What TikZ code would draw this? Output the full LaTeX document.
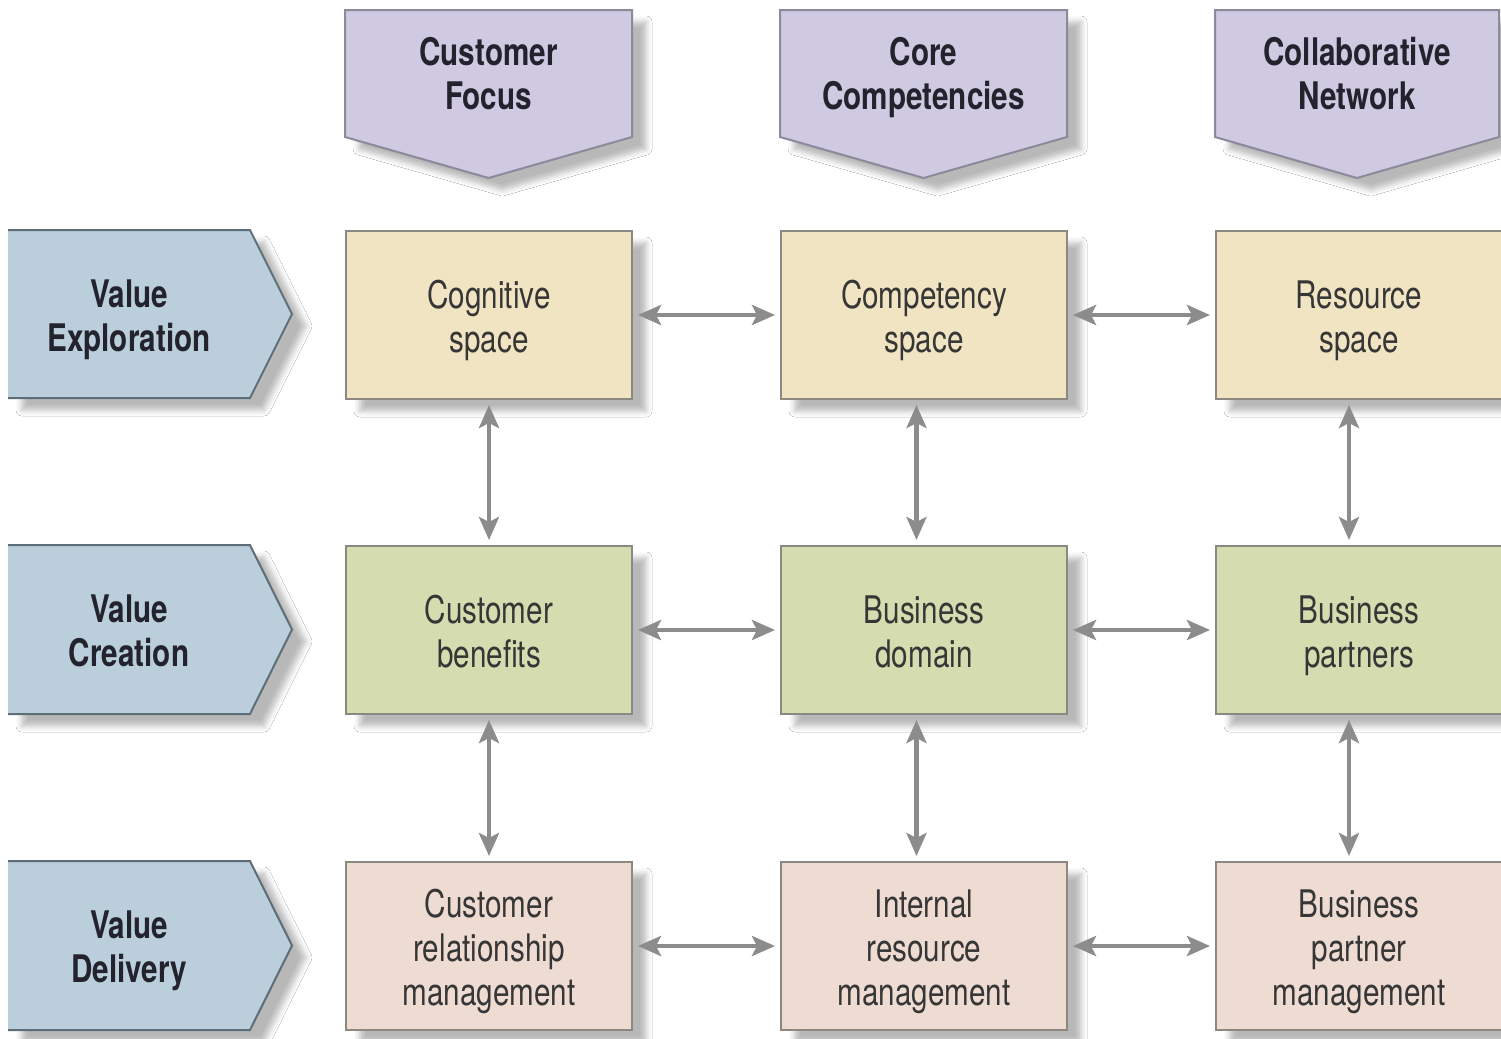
\documentclass[tikz,border=0pt]{standalone}
\usepackage{fontspec}
\setmainfont{TeX Gyre Heros}[FakeStretch=0.78]
\usetikzlibrary{arrows.meta,shadows.blur}

\definecolor{hdrfill}{HTML}{CFC9E2}
\definecolor{hdredge}{HTML}{8C8A9A}
\definecolor{stagefill}{HTML}{BACEDB}
\definecolor{stageedge}{HTML}{5E6E78}
\definecolor{explfill}{HTML}{F1E4C3}
\definecolor{creafill}{HTML}{D4DCB0}
\definecolor{delfill}{HTML}{EEDBD2}
\definecolor{boxedge}{HTML}{8A8880}
\definecolor{linkgray}{HTML}{8C8C8C}
\definecolor{boldtext}{HTML}{23232E}
\definecolor{plaintext}{HTML}{363636}

% centred lines of text with a fixed row height, so every label sits
% at the same place in its box whatever its letters
\newcommand\lines[1]{\begin{tabular}{@{}c@{}}\rule{0pt}{22pt}#1\end{tabular}}

\begin{document}
\begin{tikzpicture}[x=0.5pt,y=-0.5pt,
  softshadow/.style={blur shadow={shadow xshift=7pt, shadow yshift=-6pt,
      shadow blur radius=3pt, shadow opacity=28}},
  cell/.style={draw=boxedge, line width=1pt, minimum width=143pt,
      minimum height=84pt, inner sep=0pt, anchor=north west,
      font=\fontsize{19}{22}\selectfont, text=plaintext, softshadow},
  heading/.style={font=\bfseries\fontsize{19}{22}\selectfont,
      text=boldtext, inner sep=0pt},
  header/.style={fill=hdrfill, draw=hdredge, line width=1pt, softshadow},
  stage/.style={fill=stagefill, softshadow},
  stageline/.style={draw=stageedge, line width=1pt},
  link/.style={{Stealth[length=11.5pt,width=10pt,inset=2.5pt]}-{Stealth[length=11.5pt,width=10pt,inset=2.5pt]},
      draw=linkgray, line width=2.2pt, shorten <=2.5pt, shorten >=2.5pt}]
\useasboundingbox[fill=white] (0,0) rectangle (1501,1039);

% column headers (down-pointing pentagons)
\path[header] (345,10) -- (632,10) -- (632,137) -- (488.5,178) -- (345,137) -- cycle;
\path[header] (780,10) -- (1067,10) -- (1067,137) -- (923.5,178) -- (780,137) -- cycle;
\path[header] (1215,10) -- (1499,10) -- (1499,137) -- (1357,178) -- (1215,137) -- cycle;
\node[heading] (h1) at (488.5,72) {\lines{Customer\\Focus}};
\node[heading] (h2) at (923.5,72) {\lines{Core\\Competencies}};
\node[heading] (h3) at (1357,72) {\lines{Collaborative\\Network}};

% row labels (right-pointing arrows, open at the left margin)
\foreach \top/\mid/\bot in {230/314/398, 545/629.5/714, 861/945.5/1030}{
  \path[stage] (8,\top) -- (250,\top) -- (292,\mid) -- (250,\bot) -- (8,\bot) -- cycle;
  \draw[stageline] (8,\top) -- (250,\top) -- (292,\mid) -- (250,\bot) -- (8,\bot);
}
\node[heading] (r1) at (129,314) {\lines{Value\\Exploration}};
\node[heading] (r2) at (129,629.5) {\lines{Value\\Creation}};
\node[heading] (r3) at (129,945.5) {\lines{Value\\Delivery}};

% value exploration row
\node[cell, fill=explfill] (b11) at (345,230) {\lines{Cognitive\\space}};
\node[cell, fill=explfill] (b12) at (780,230) {\lines{Competency\\space}};
\node[cell, fill=explfill] (b13) at (1215,230) {\lines{Resource\\space}};
% value creation row
\node[cell, fill=creafill] (b21) at (345,545) {\lines{Customer\\benefits}};
\node[cell, fill=creafill] (b22) at (780,545) {\lines{Business\\domain}};
\node[cell, fill=creafill] (b23) at (1215,545) {\lines{Business\\partners}};
% value delivery row
\node[cell, fill=delfill] (b31) at (345,861) {\lines{Customer\\relationship\\management}};
\node[cell, fill=delfill] (b32) at (780,861) {\lines{Internal\\resource\\management}};
\node[cell, fill=delfill] (b33) at (1215,861) {\lines{Business\\partner\\management}};

% horizontal links
\foreach \r in {1,2,3}{
  \draw[link] (b\r1.east) -- (b\r2.west);
  \draw[link] (b\r2.east) -- (b\r3.west);
}
% vertical links
\draw[link] (b11.south) -- (b21.north);
\draw[link] (b21.south) -- (b31.north);
\draw[link] ([xshift=-3.75pt]b12.south) -- ([xshift=-3.75pt]b22.north);
\draw[link] ([xshift=-3.75pt]b22.south) -- ([xshift=-3.75pt]b32.north);
\draw[link] ([xshift=-5pt]b13.south) -- ([xshift=-5pt]b23.north);
\draw[link] ([xshift=-5pt]b23.south) -- ([xshift=-5pt]b33.north);
\end{tikzpicture}
\end{document}
